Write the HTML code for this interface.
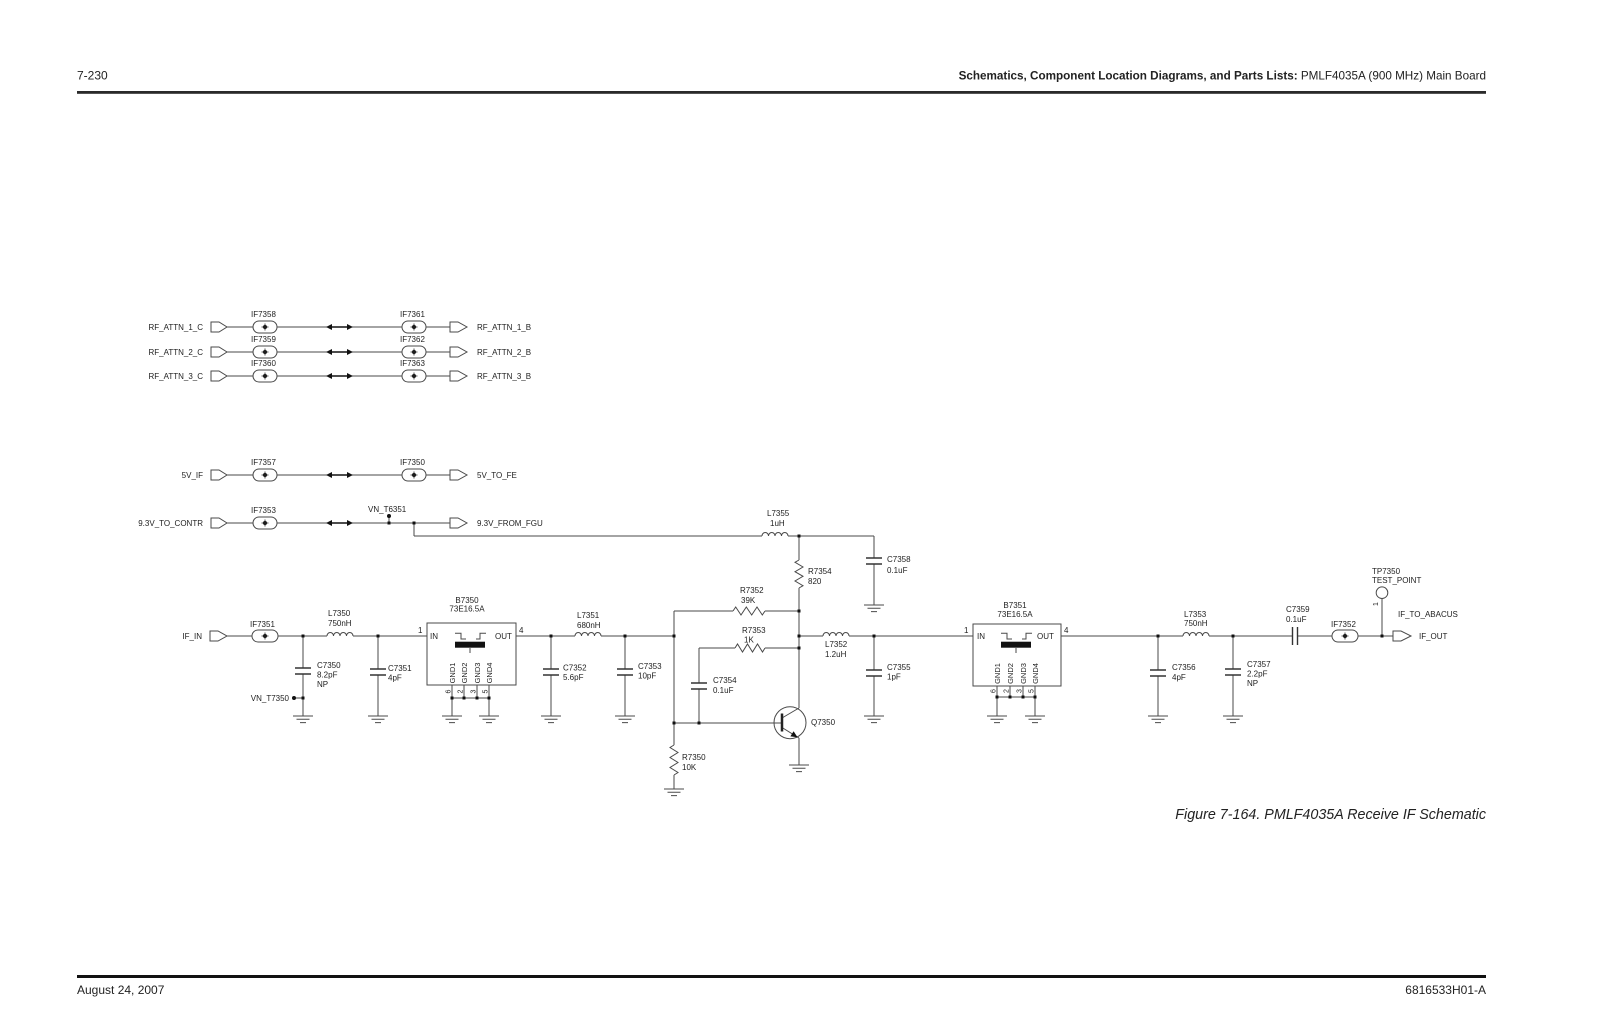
<!DOCTYPE html>
<html><head><meta charset="utf-8"><style>
html,body{margin:0;padding:0;background:#fff;}
svg{display:block;}
text{font-family:"Liberation Sans",Arial,sans-serif;fill:#222;}
.t{font-size:8px;}
.w{stroke:#4a4a4a;stroke-width:1;fill:none;}
.p{stroke:#333;stroke-width:1.4;fill:none;}
.j{fill:#111;}
</style></head><body>
<svg width="1600" height="1035" viewBox="0 0 1600 1035" xmlns="http://www.w3.org/2000/svg">
<!-- header -->
<text x="77" y="79.5" font-size="12">7-230</text>
<text x="1486" y="79.5" font-size="11.7" text-anchor="end"><tspan font-weight="bold">Schematics, Component Location Diagrams, and Parts Lists:</tspan><tspan> PMLF4035A (900 MHz) Main Board</tspan></text>
<rect x="77" y="91" width="1409" height="2.8" fill="#2a2a2a"/>
<!-- footer -->
<rect x="77" y="975" width="1409" height="3" fill="#111"/>
<text x="77" y="994" font-size="12">August 24, 2007</text>
<text x="1486" y="994" font-size="12" text-anchor="end">6816533H01-A</text>
<text x="1486" y="819" font-size="14.3" font-style="italic" text-anchor="end">Figure 7-164. PMLF4035A Receive IF Schematic</text>

<!-- ============ top connector rows ============ -->
<g class="w">
<!-- row 1 y=327 -->
<polygon points="211,322 219,322 227,327 219,332 211,332"/>
<path d="M227 327H253M277 327H402M426 327H450"/>
<rect x="253" y="321" width="24" height="12" rx="6"/>
<rect x="402" y="321" width="24" height="12" rx="6"/>
<polygon points="450,322 458,322 467,327 458,332 450,332"/>
<!-- row 2 y=352 -->
<polygon points="211,347 219,347 227,352 219,357 211,357"/>
<path d="M227 352H253M277 352H402M426 352H450"/>
<rect x="253" y="346" width="24" height="12" rx="6"/>
<rect x="402" y="346" width="24" height="12" rx="6"/>
<polygon points="450,347 458,347 467,352 458,357 450,357"/>
<!-- row 3 y=376 -->
<polygon points="211,371 219,371 227,376 219,381 211,381"/>
<path d="M227 376H253M277 376H402M426 376H450"/>
<rect x="253" y="370" width="24" height="12" rx="6"/>
<rect x="402" y="370" width="24" height="12" rx="6"/>
<polygon points="450,371 458,371 467,376 458,381 450,381"/>
<!-- row 4 y=475 -->
<polygon points="211,470 219,470 227,475 219,480 211,480"/>
<path d="M227 475H253M277 475H402M426 475H450"/>
<rect x="253" y="469" width="24" height="12" rx="6"/>
<rect x="402" y="469" width="24" height="12" rx="6"/>
<polygon points="450,470 458,470 467,475 458,480 450,480"/>
<!-- row 5 y=523 -->
<polygon points="211,518 219,518 227,523 219,528 211,528"/>
<path d="M227 523H253M277 523H450M389 516V523M414 523V536"/>
<rect x="253" y="517" width="24" height="12" rx="6"/>
<polygon points="450,518 458,518 467,523 458,528 450,528"/>
</g>
<!-- oval center dots -->
<g class="j">
<circle cx="265" cy="327" r="2"/><circle cx="414" cy="327" r="2"/>
<circle cx="265" cy="352" r="2"/><circle cx="414" cy="352" r="2"/>
<circle cx="265" cy="376" r="2"/><circle cx="414" cy="376" r="2"/>
<circle cx="265" cy="475" r="2"/><circle cx="414" cy="475" r="2"/>
<circle cx="265" cy="523" r="2"/>
<circle cx="265" cy="636" r="2"/><circle cx="1345" cy="636" r="2"/>
</g>
<g stroke="#222" stroke-width="0.8">
<path d="M261.5 327h7M265 323.5v7M410.5 327h7M414 323.5v7M261.5 352h7M265 348.5v7M410.5 352h7M414 348.5v7M261.5 376h7M265 372.5v7M410.5 376h7M414 372.5v7M261.5 475h7M265 471.5v7M410.5 475h7M414 471.5v7M261.5 523h7M265 519.5v7M261.5 636h7M265 632.5v7M1341.5 636h7M1345 632.5v7"/>
</g>
<!-- double arrows -->
<g stroke="#111" stroke-width="1.5">
<path d="M330 327H349M330 352H349M330 376H349M330 475H349M330 523H349"/>
</g>
<g fill="#111">
<polygon points="326,327 332,324 332,330"/><polygon points="353,327 347,324 347,330"/>
<polygon points="326,352 332,349 332,355"/><polygon points="353,352 347,349 347,355"/>
<polygon points="326,376 332,373 332,379"/><polygon points="353,376 347,373 347,379"/>
<polygon points="326,475 332,472 332,478"/><polygon points="353,475 347,472 347,478"/>
<polygon points="326,523 332,520 332,526"/><polygon points="353,523 347,520 347,526"/>
</g>
<!-- top labels -->
<g class="t">
<text x="203" y="330" text-anchor="end">RF_ATTN_1_C</text>
<text x="203" y="355" text-anchor="end">RF_ATTN_2_C</text>
<text x="203" y="379" text-anchor="end">RF_ATTN_3_C</text>
<text x="203" y="478" text-anchor="end">5V_IF</text>
<text x="203" y="526" text-anchor="end">9.3V_TO_CONTR</text>
<text x="477" y="330">RF_ATTN_1_B</text>
<text x="477" y="355">RF_ATTN_2_B</text>
<text x="477" y="379">RF_ATTN_3_B</text>
<text x="477" y="478">5V_TO_FE</text>
<text x="477" y="526">9.3V_FROM_FGU</text>
<text x="251" y="317">IF7358</text><text x="400" y="317">IF7361</text>
<text x="251" y="342">IF7359</text><text x="400" y="342">IF7362</text>
<text x="251" y="366">IF7360</text><text x="400" y="366">IF7363</text>
<text x="251" y="465">IF7357</text><text x="400" y="465">IF7350</text>
<text x="251" y="513">IF7353</text>
<text x="368" y="512">VN_T6351</text>
</g>

<!-- ============ main circuit ============ -->
<g class="w">
<!-- input -->
<polygon points="210,631 218,631 227,636 218,641 210,641"/>
<rect x="252" y="630" width="26" height="12" rx="6"/>
<!-- horizontal wires y=636 -->
<path d="M227 636H252M278 636H327M353 636H427M516 636H575M601 636H674M799 636H823M849 636H973M1061 636H1183M1209 636H1292.5M1297.5 636H1332M1358 636H1393"/>
<rect x="1332" y="630" width="26" height="12" rx="6"/>
<!-- inductors -->
<path d="M327 636a3.25 3.5 0 0 1 6.5 0a3.25 3.5 0 0 1 6.5 0a3.25 3.5 0 0 1 6.5 0a3.25 3.5 0 0 1 6.5 0"/>
<path d="M575 636a3.25 3.5 0 0 1 6.5 0a3.25 3.5 0 0 1 6.5 0a3.25 3.5 0 0 1 6.5 0a3.25 3.5 0 0 1 6.5 0"/>
<path d="M823 636a3.25 3.5 0 0 1 6.5 0a3.25 3.5 0 0 1 6.5 0a3.25 3.5 0 0 1 6.5 0a3.25 3.5 0 0 1 6.5 0"/>
<path d="M1183 636a3.25 3.5 0 0 1 6.5 0a3.25 3.5 0 0 1 6.5 0a3.25 3.5 0 0 1 6.5 0a3.25 3.5 0 0 1 6.5 0"/>
<path d="M762 536a3.25 3.5 0 0 1 6.5 0a3.25 3.5 0 0 1 6.5 0a3.25 3.5 0 0 1 6.5 0a3.25 3.5 0 0 1 6.5 0"/>
<!-- 9.3V feed line -->
<path d="M414 536H762M788 536H874"/>
<!-- verticals -->
<path d="M303 636V668M303 674V716M294 698H303"/>
<path d="M378 636V669M378 675V716"/>
<path d="M551 636V669M551 675V716"/>
<path d="M625 636V669M625 675V716"/>
<path d="M874 536V558M874 564V605"/>
<path d="M874 636V670M874 676V716"/>
<path d="M1158 636V670M1158 676V716"/>
<path d="M1233 636V669M1233 675V716"/>
<path d="M699 648V683M699 689V723"/>
<path d="M674 611V745M674 775V789"/>
<path d="M799 536V560M799 588V708M799 738V765"/>
<path d="M674 611H733M765 611H799M699 648H735M765 648H799M674 723H782"/>
<!-- resistors -->
<path d="M799 560L795 562.3L803 567L795 571.7L803 576.3L795 581L803 585.7L799 588"/>
<path d="M674 745L670 747.5L678 752.5L670 757.5L678 762.5L670 767.5L678 772.5L674 775"/>
<path d="M733 611L735.7 607L741 615L746.3 607L751.7 615L757 607L762.3 615L765 611"/>
<path d="M735 648L737.5 644L742.5 652L747.5 644L752.5 652L757.5 644L762.5 652L765 648"/>
<!-- B7350 -->
<rect x="427" y="623" width="89" height="62"/>
<path d="M455 633.3H461V639H466M476 639H480V633.3H486M470 648V653"/>
<path d="M452 685V698M464 685V698M477 685V698M489 685V698M452 698H489M452 698V716M489 698V716"/>
<!-- B7351 -->
<rect x="973" y="624" width="88" height="62"/>
<path d="M1001 633.3H1007V639H1012M1022 639H1026V633.3H1032M1016 648V653"/>
<path d="M997 686V697M1010 686V697M1023 686V697M1035 686V697M997 697H1035M997 697V716M1035 697V716"/>
<!-- transistor -->
<circle cx="790" cy="722.7" r="16"/>
<path d="M782 718L799 708M782 727.5L797 736.8L799 738"/>
<!-- test point -->
<circle cx="1382" cy="592.7" r="5.8"/>
<path d="M1382 598.5V636"/>
<polygon points="1393,631 1401,631 1411,636 1401,641 1393,641"/>
<!-- grounds -->
<path d="M864 605h20M867.5 608.3h13M871 611.6h6"/>
<path d="M293 716h20M296.5 719.3h13M300 722.6h6"/>
<path d="M368 716h20M371.5 719.3h13M375 722.6h6"/>
<path d="M442 716h20M445.5 719.3h13M449 722.6h6"/>
<path d="M479 716h20M482.5 719.3h13M486 722.6h6"/>
<path d="M541 716h20M544.5 719.3h13M548 722.6h6"/>
<path d="M615 716h20M618.5 719.3h13M622 722.6h6"/>
<path d="M664 789h20M667.5 792.3h13M671 795.6h6"/>
<path d="M789 765h20M792.5 768.3h13M796 771.6h6"/>
<path d="M864 716h20M867.5 719.3h13M871 722.6h6"/>
<path d="M987 716h20M990.5 719.3h13M994 722.6h6"/>
<path d="M1025 716h20M1028.5 719.3h13M1032 722.6h6"/>
<path d="M1148 716h20M1151.5 719.3h13M1155 722.6h6"/>
<path d="M1223 716h20M1226.5 719.3h13M1230 722.6h6"/>
</g>
<!-- capacitor plates -->
<g class="p">
<path d="M866 558h16M866 564h16"/>
<path d="M295 668h16M295 674h16"/>
<path d="M370 669h16M370 675h16"/>
<path d="M543 669h16M543 675h16"/>
<path d="M617 669h16M617 675h16"/>
<path d="M691 683h16M691 689h16"/>
<path d="M866 670h16M866 676h16"/>
<path d="M1150 670h16M1150 676h16"/>
<path d="M1225 669h16M1225 675h16"/>
<path d="M1292.5 627v18M1297.5 627v18"/>
</g>
<!-- filter bars, transistor base, emitter arrow -->
<rect x="455" y="641.7" width="30" height="6" fill="#111"/>
<rect x="1001" y="641.7" width="30" height="6" fill="#111"/>
<path d="M782 713.5V731.5" stroke="#222" stroke-width="2.5"/>
<polygon points="797.5,737.3 790.4,736.4 793.6,731.2" fill="#111"/>
<!-- junction dots -->
<g class="j">
<rect x="301.5" y="634.5" width="3" height="3"/><rect x="376.5" y="634.5" width="3" height="3"/>
<rect x="301.5" y="696.5" width="3" height="3"/>
<rect x="450.5" y="696.5" width="3" height="3"/><rect x="462.5" y="696.5" width="3" height="3"/>
<rect x="475.5" y="696.5" width="3" height="3"/><rect x="487.5" y="696.5" width="3" height="3"/>
<rect x="549.5" y="634.5" width="3" height="3"/><rect x="623.5" y="634.5" width="3" height="3"/>
<rect x="672.5" y="634.5" width="3" height="3"/><rect x="672.5" y="721.5" width="3" height="3"/>
<rect x="697.5" y="721.5" width="3" height="3"/>
<rect x="797.5" y="534.5" width="3" height="3"/><rect x="797.5" y="609.5" width="3" height="3"/>
<rect x="797.5" y="634.5" width="3" height="3"/><rect x="797.5" y="646.5" width="3" height="3"/>
<rect x="872.5" y="634.5" width="3" height="3"/>
<rect x="995.5" y="695.5" width="3" height="3"/><rect x="1008.5" y="695.5" width="3" height="3"/>
<rect x="1021.5" y="695.5" width="3" height="3"/><rect x="1033.5" y="695.5" width="3" height="3"/>
<rect x="1156.5" y="634.5" width="3" height="3"/><rect x="1231.5" y="634.5" width="3" height="3"/>
<rect x="1380.5" y="634.5" width="3" height="3"/>
<rect x="387.5" y="521.5" width="3" height="3"/><rect x="412.5" y="521.5" width="3" height="3"/>
<circle cx="294" cy="698" r="2"/><circle cx="389" cy="516" r="2"/>
</g>
<!-- main labels -->
<g class="t">
<text x="202" y="639" text-anchor="end">IF_IN</text>
<text x="250" y="627">IF7351</text>
<text x="328" y="616">L7350</text><text x="328" y="626">750nH</text>
<text x="317" y="668">C7350</text><text x="317" y="677.5">8.2pF</text><text x="317" y="687">NP</text>
<text x="289" y="701" text-anchor="end">VN_T7350</text>
<text x="388" y="671">C7351</text><text x="388" y="680.5">4pF</text>
<text x="467" y="603" text-anchor="middle">B7350</text><text x="467" y="611.5" text-anchor="middle">73E16.5A</text>
<text x="418" y="633">1</text><text x="430" y="639">IN</text><text x="495" y="639">OUT</text><text x="519" y="633">4</text>
<text x="577" y="618">L7351</text><text x="577" y="628">680nH</text>
<text x="563" y="670.5">C7352</text><text x="563" y="680">5.6pF</text>
<text x="638" y="669">C7353</text><text x="638" y="678.5">10pF</text>
<text x="740" y="593">R7352</text><text x="741" y="603">39K</text>
<text x="742" y="633">R7353</text><text x="744" y="642.5">1K</text>
<text x="713" y="683">C7354</text><text x="713" y="693">0.1uF</text>
<text x="811" y="725">Q7350</text>
<text x="682" y="760">R7350</text><text x="682" y="770">10K</text>
<text x="767" y="516">L7355</text><text x="770" y="526">1uH</text>
<text x="808" y="574">R7354</text><text x="808" y="584">820</text>
<text x="887" y="562">C7358</text><text x="887" y="573">0.1uF</text>
<text x="825" y="647">L7352</text><text x="825" y="657">1.2uH</text>
<text x="887" y="670">C7355</text><text x="887" y="679.5">1pF</text>
<text x="1015" y="608" text-anchor="middle">B7351</text><text x="1015" y="617" text-anchor="middle">73E16.5A</text>
<text x="964" y="633">1</text><text x="977" y="639">IN</text><text x="1037" y="639">OUT</text><text x="1064" y="633">4</text>
<text x="1184" y="617">L7353</text><text x="1184" y="626">750nH</text>
<text x="1172" y="670">C7356</text><text x="1172" y="680">4pF</text>
<text x="1247" y="667">C7357</text><text x="1247" y="676.5">2.2pF</text><text x="1247" y="686">NP</text>
<text x="1286" y="612">C7359</text><text x="1286" y="622">0.1uF</text>
<text x="1331" y="627">IF7352</text>
<text x="1372" y="574">TP7350</text><text x="1372" y="583">TEST_POINT</text>
<text x="1398" y="617">IF_TO_ABACUS</text>
<text x="1419" y="639">IF_OUT</text>
<text transform="translate(1378,604) rotate(-90)" text-anchor="middle" font-size="7">1</text>
</g>
<!-- rotated GND / pin labels -->
<g font-size="7.5">
<text transform="translate(454.8,673) rotate(-90)" text-anchor="middle">GND1</text>
<text transform="translate(466.8,673) rotate(-90)" text-anchor="middle">GND2</text>
<text transform="translate(479.8,673) rotate(-90)" text-anchor="middle">GND3</text>
<text transform="translate(491.8,673) rotate(-90)" text-anchor="middle">GND4</text>
<text transform="translate(999.8,673.5) rotate(-90)" text-anchor="middle">GND1</text>
<text transform="translate(1012.8,673.5) rotate(-90)" text-anchor="middle">GND2</text>
<text transform="translate(1025.8,673.5) rotate(-90)" text-anchor="middle">GND3</text>
<text transform="translate(1037.8,673.5) rotate(-90)" text-anchor="middle">GND4</text>
</g>
<g font-size="7">
<text transform="translate(450.5,691.5) rotate(-90)" text-anchor="middle">6</text>
<text transform="translate(462.5,691.5) rotate(-90)" text-anchor="middle">2</text>
<text transform="translate(475.5,691.5) rotate(-90)" text-anchor="middle">3</text>
<text transform="translate(487.5,691.5) rotate(-90)" text-anchor="middle">5</text>
<text transform="translate(995.5,691) rotate(-90)" text-anchor="middle">6</text>
<text transform="translate(1008.5,691) rotate(-90)" text-anchor="middle">2</text>
<text transform="translate(1021.5,691) rotate(-90)" text-anchor="middle">3</text>
<text transform="translate(1033.5,691) rotate(-90)" text-anchor="middle">5</text>
</g>
</svg>
</body></html>
